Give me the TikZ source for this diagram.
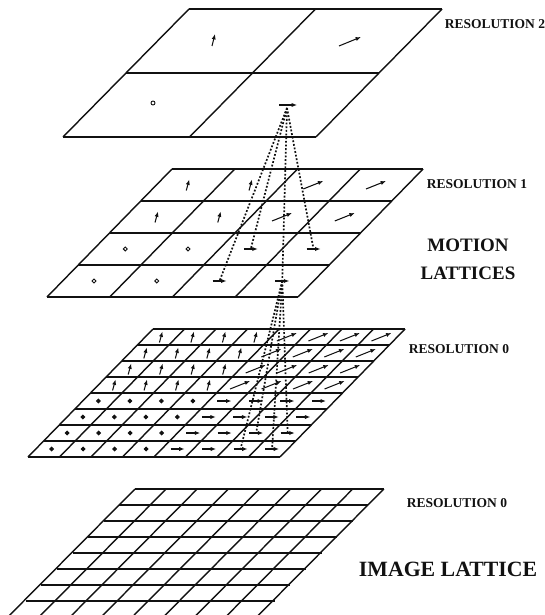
\documentclass[tikz,border=0pt]{standalone}
\usepackage{fontspec}
\setmainfont{Liberation Serif}
\usetikzlibrary{arrows.meta}
\definecolor{Ink}{HTML}{111111}

\begin{document}
\begin{tikzpicture}[x=0.025cm,y=-0.025cm,
    grid/.style={Ink,line width=1pt},
    vec/.style={Ink,line width=0.75pt,-{Latex[length=3.8pt,width=3pt]}},
    spot/.style={Ink,line width=0.65pt},
    link/.style={Ink,line width=1.2pt,dash pattern=on 1.3pt off 1.3pt},
    lbl/.style={anchor=west,text=Ink,font=\bfseries\fontsize{9.6}{11}\selectfont},
    big/.style={text=Ink,align=center,font=\bfseries\fontsize{13.5}{20}\selectfont}]
  \clip (0,0) rectangle (544,615);
  % motion lattices: resolution / corner / width / height / skew / cells
  \foreach \k/\a/\b/\w/\h/\s/\n in {2/189/9/253/128/126/2,1/172/169/251/128/125/4,
                                    0/153/329/252/128/125/8}{
    \foreach \i in {0,...,\n}{
      \draw[grid] ({\a-\s*\i/\n},{\b+\h*\i/\n}) -- ++(\w,0);
      \draw[grid] ({\a+\w*\i/\n},\b) -- ++(-\s,\h);
    }
    \foreach \r in {1,...,\n}{
      \foreach \c in {1,...,\n}{
        \coordinate (r\k-\r-\c) at ({\a+\w*(\c-0.5)/\n-\s*(\r-0.5)/\n},{\b+\h*(\r-0.5)/\n});
      }
    }
  }
  % image lattice, cut by the lower edge
  \foreach \i in {0,...,7}
    \draw[grid] ({135-15.6*\i},{489+16*\i}) -- ++(249,0);
  \foreach \j in {0,...,8}
    \draw[grid] ({135+31.1*\j},489) -- ++(-150,151);
  % vectors at resolution 2
  \draw[vec] (212,46) -- (215,34);
  \draw[vec] (339,46) -- (361,37);
  \draw[spot] (153,103) circle (2);
  \draw[vec] (279,105) -- (297,105);
  \coordinate (r2-2-2) at (287,108);
  % vectors at resolutions 1 and 0, one kind per quadrant
  \foreach \k/\n/\f in {1/4/white,0/8/Ink}{
    \pgfmathtruncatemacro\m{\n/2}
    \foreach \r in {1,...,\m}{
      \foreach \c in {1,...,\m}{
        \pgfmathtruncatemacro\rr{\r+\m}
        \pgfmathtruncatemacro\cc{\c+\m}
        \draw[vec] ([shift={(-1.5,5.5)}]r\k-\r-\c) -- ([shift={(1.5,-5.5)}]r\k-\r-\c);
        \draw[vec] ([shift={(-10,4)}]r\k-\r-\cc) -- ([shift={(10,-4)}]r\k-\r-\cc);
        \draw[spot,fill=\f] (r\k-\rr-\c) circle (1.9);
        \draw[vec] ([shift={(-7,0)}]r\k-\rr-\cc) -- ([shift={(7,0)}]r\k-\rr-\cc);
      }
    }
  }
  % dotted links between resolutions
  \foreach \t in {r1-3-3,r1-3-4,r1-4-3,r1-4-4}
    \draw[link] (r2-2-2) -- (\t);
  \foreach \t in {r0-7-7,r0-7-8,r0-8-7,r0-8-8}
    \draw[link] (r1-4-4) -- (\t);
  % labels
  \node[lbl] (res2) at (440,24) {RESOLUTION 2};
  \node[lbl] (res1) at (422,184) {RESOLUTION 1};
  \node[big] (motion) at (468,259) {MOTION\\LATTICES};
  \node[lbl] (res0m) at (404,349) {RESOLUTION 0};
  \node[lbl] (res0i) at (402,503) {RESOLUTION 0};
  \node[big,anchor=west,font=\bfseries\fontsize{15.5}{18}\selectfont] (image) at (354,569) {IMAGE LATTICE};
\end{tikzpicture}
\end{document}
